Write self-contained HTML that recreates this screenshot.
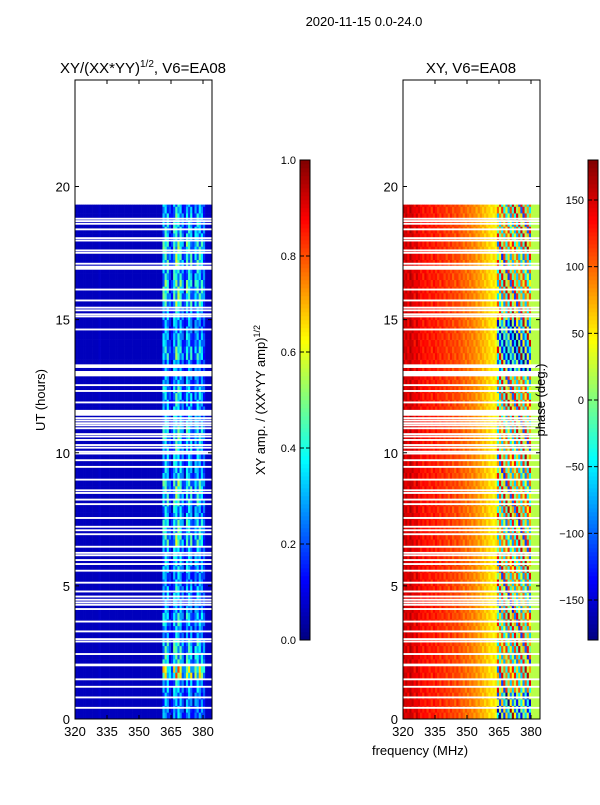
<!DOCTYPE html>
<html><head><meta charset="utf-8"><style>
body{margin:0;background:#fff;}
svg text{font-family:"Liberation Sans",sans-serif;fill:#000;}
</style></head><body>
<svg id="fig" width="600" height="800" xmlns="http://www.w3.org/2000/svg">
<rect width="600" height="800" fill="#fff"/>
<text x="364" y="26" font-size="13" text-anchor="middle">2020-11-15 0.0-24.0</text>
<text x="143" y="73" font-size="15" text-anchor="middle">XY/(XX*YY)<tspan font-size="10" dy="-6">1/2</tspan><tspan dy="6">, V6=EA08</tspan></text>
<text x="471" y="73" font-size="15" text-anchor="middle">XY, V6=EA08</text>
<g id="ampPlot"></g>
<g id="phPlot"></g>
<g id="axes"></g>
<text transform="translate(45,400) rotate(-90)" font-size="13" text-anchor="middle">UT (hours)</text>
<text x="420" y="755" font-size="13" text-anchor="middle">frequency (MHz)</text>
<text transform="translate(265,400) rotate(-90)" font-size="13" text-anchor="middle">XY amp. / (XX*YY amp)<tspan font-size="9" dy="-5">1/2</tspan></text>
<text transform="translate(545,400) rotate(-90)" font-size="13" text-anchor="middle">phase (deg.)</text>
</svg>
<script>
// ---- data ----
const channelsMHz = []; for (let f = 320; f < 384.2; f++) channelsMHz.push(f);
const ampChannelProfile = [
0.06,0.06,0.06,0.06,0.06,0.06,0.06,0.06,0.06,0.06,0.06,0.07,0.06,0.06,0.06,0.06,0.06,0.06,0.06,0.06,
0.06,0.06,0.06,0.06,0.06,0.06,0.06,0.06,0.06,0.06,0.06,0.06,0.06,0.06,0.06,0.06,0.06,0.06,0.06,0.06,
0.06,0.33,0.36,0.34,0.18,0.13,0.36,0.4,0.38,0.35,0.25,0.13,0.35,0.34,0.32,0.13,0.3,0.34,0.32,0.3,0.22,0.07,0.07,0.07,0.07];
const ampBlocks = [0.8,0.8,0.9,1.7,1.1,1.1,0.8,1.0,0.8,0.9,0.8,0.9,0.9,1.2,1.1,0.9,1.1,1.2,0.9,0.9,
1.0,1.1,0.9,0.9,1.0,0.8,0.8,1.1,0.9,0.8,0.9,1.2,1.2,1.0,1.2,1.2,1.0,1.0,0.9];
const texture = [1.0,0.6,1.2,0.8,1.1,0.5,1.25];
const phaseChannelBase = [150,155,145,160,150,140,150,140,135,130,135,130,130,125,130,128,125,120,125,120,
118,115,118,112,110,115,108,105,100,100,98,95,92,90,85,82,78,72,70,65,60,55,55,50,
null,null,null,null,null,null,null,null,null,null,null,null,null,null,null,null,20,20,20,20,20];
const phaseMixOffsets = [0,-120,60,-80,100,-40,20,-150,80,-60,30,-100,50,-20,70,-90];
const phaseBlocks = [-40,-30,40,60,30,50,40,60,20,30,40,60,50,40,30,60,50,40,30,60,
40,50,40,60,50,40,-60,-70,-60,-50,60,40,50,40,30,60,50,40,50];
const dataEndHour = 19.32;
const gapHours = [18.79,18.70,18.60,18.39,18.06,17.97,17.60,17.51,17.10,16.95,16.13,15.72,15.45,15.35,15.20,15.12,14.63,
13.28,13.22,12.97,12.54,12.32,11.89,11.5,11.30,11.21,11.11,11.03,10.92,10.70,10.61,10.48,10.29,10.19,10.04,
9.97,9.72,9.47,8.99,8.59,8.49,8.24,8.07,7.55,7.22,7.09,6.94,6.47,6.24,6.15,5.97,5.82,5.57,5.12,4.79,4.60,4.48,4.38,4.29,4.13,
3.66,3.29,3.00,2.91,2.44,2.03,1.49,1.21,0.81,0.42];
const gapDurations = {16.95:0.15,12.97:0.2,11.5:0.22,13.28:0.08,2.03:0.1};
const xTicks = [320,335,350,365,380];
const yTicks = [0,5,10,15,20];
const ampCbTicks = [0.0,0.2,0.4,0.6,0.8,1.0];
const phCbTicks = [-150,-100,-50,0,50,100,150];

// ---- scales ----
const Y0=719, Y1=80, H0=0, H1=24;
const yS = h => Y0 - (h-H0)/(H1-H0)*(Y0-Y1);
const FMIN=320, FMAX=384.22;
const mkX = (x0,x1) => f => x0 + (f-FMIN)/(FMAX-FMIN)*(x1-x0);
const xA = mkX(75,212), xP = mkX(403,540);
function jet(v){v=Math.max(0,Math.min(1,v));
 const c=t=>Math.round(255*Math.max(0,Math.min(1,1.5-Math.abs(4*v-t))));
 return `rgb(${c(3)},${c(2)},${c(1)})`;}
const NS='http://www.w3.org/2000/svg';
function el(tag,attrs,parent){const e=document.createElementNS(NS,tag);for(const k in attrs)e.setAttribute(k,attrs[k]);parent.appendChild(e);return e;}

const ampG=document.getElementById('ampPlot'), phG=document.getElementById('phPlot'), ax=document.getElementById('axes');
const rowH=0.25, nRows=Math.ceil(dataEndHour/rowH);
for(let r=0;r<nRows;r++){
 const h0=r*rowH, h1=Math.min(dataEndHour,h0+rowH);
 const b=Math.min(ampBlocks.length-1,Math.floor(h0/0.5));
 const yT=yS(h1), yB=yS(h0);
 channelsMHz.forEach((f,c)=>{
  const f1=Math.min(FMAX,f+1);
  let a=ampChannelProfile[c]*(ampChannelProfile[c]>0.1?ampBlocks[b]*texture[(r*3+c)%texture.length]:1);
  const ra=el('rect',{x:xA(f),y:yT,width:xA(f1)-xA(f)+0.3,height:yB-yT+0.3,fill:jet(a)},ampG);
  
  
  let p=phaseChannelBase[c];
  if(p===null){p=phaseBlocks[b]+phaseMixOffsets[(c-44+r)%phaseMixOffsets.length];}
  else if(c<44){p=p+(texture[(r+c)%texture.length]-1)*25;}
  while(p>180)p-=360; while(p<-180)p+=360;
  const rp=el('rect',{x:xP(f),y:yT,width:xP(f1)-xP(f)+0.3,height:yB-yT+0.3,fill:jet((p+180)/360)},phG);
  
  
 });
}
gapHours.forEach(g=>{
 const d=gapDurations[g]||0.07;
 const yT=yS(g+d/2), yB=yS(g-d/2);
 const w1=el('rect',{x:75,y:yT,width:137,height:yB-yT,fill:'#fff'},ampG);
 
 
 const w2=el('rect',{x:403,y:yT,width:137,height:yB-yT,fill:'#fff'},phG);
 
 
});
// axes frames and ticks
[[75,xA],[403,xP]].forEach(([x0,xs],i)=>{
 const fr=el('rect',{x:x0,y:80,width:137,height:639,fill:'none',stroke:'#000','stroke-width':1},ax);
 
 
 xTicks.forEach(t=>{
  el('line',{x1:xs(t),x2:xs(t),y1:719,y2:715,stroke:'#000'},ax);
  el('line',{x1:xs(t),x2:xs(t),y1:80,y2:84,stroke:'#000'},ax);
  const tx=el('text',{x:xs(t),y:736,'font-size':13,'text-anchor':'middle'},ax);tx.textContent=t;
  
  
 });
 yTicks.forEach(t=>{
  el('line',{x1:x0,x2:x0+4,y1:yS(t),y2:yS(t),stroke:'#000'},ax);
  el('line',{x1:x0+137,x2:x0+133,y1:yS(t),y2:yS(t),stroke:'#000'},ax);
  const ty=el('text',{x:x0-5,y:yS(t)+5,'font-size':13,'text-anchor':'end'},ax);ty.textContent=t;
  
  
 });
});
// colorbars
function colorbar(x,ticks,vmin,vmax,name){
 const g=el('g',{},ax);
 
 
 for(let i=0;i<120;i++){
  el('rect',{x:x,y:640-(i+1)*4,width:10,height:4.3,fill:jet((i+0.5)/120)},g);
 }
 el('rect',{x:x,y:160,width:10,height:480,fill:'none',stroke:'#000'},g);
 ticks.forEach(t=>{
  const y=640-(t-vmin)/(vmax-vmin)*480;
  el('line',{x1:x+10,x2:x+6,y1:y,y2:y,stroke:'#000'},g);
  el('line',{x1:x,x2:x+4,y1:y,y2:y,stroke:'#000'},g);
  const tt=el('text',{x:x-4,y:y+4,'font-size':11,'text-anchor':'end'},g);
  tt.textContent=(vmax===1?t.toFixed(1):String(t)).replace('-','\u2212');
  
  
 });
}
colorbar(300,ampCbTicks,0,1,'amp-colorbar');
colorbar(588,phCbTicks,-180,180,'phase-colorbar');
</script>
</body></html>
